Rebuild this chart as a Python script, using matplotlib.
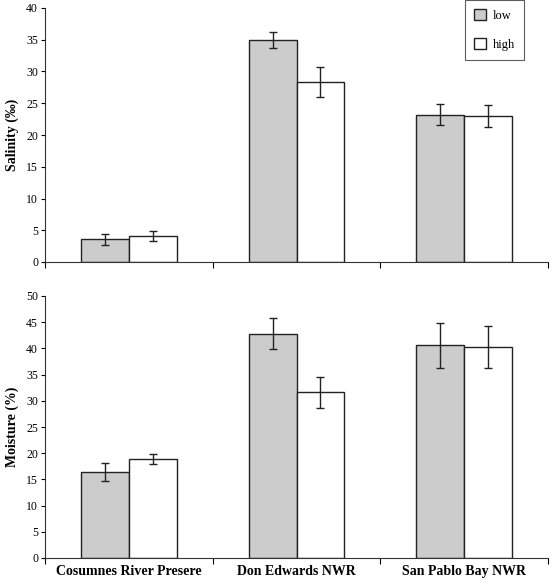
import matplotlib
matplotlib.use("Agg")
import matplotlib.pyplot as plt
import numpy as np

sites = ["Cosumnes River Presere", "Don Edwards NWR", "San Pablo Bay NWR"]
series = ["low", "high"]
salinity_low = [3.6, 34.9, 23.2]
salinity_high = [4.1, 28.3, 23.0]
salinity_low_err = [0.85, 1.25, 1.7]
salinity_high_err = [0.85, 2.35, 1.7]
moisture_low = [16.4, 42.8, 40.6]
moisture_high = [18.9, 31.6, 40.3]
moisture_low_err = [1.7, 3.0, 4.3]
moisture_high_err = [1.0, 3.0, 4.0]

plt.rcParams['font.family'] = ['Liberation Serif', 'DejaVu Serif']

W, H = 553, 580
fig = plt.figure(figsize=(W/100, H/100), dpi=100)

def ax_rect(left, right, top, bottom):
    return [left/W, 1-bottom/H, (right-left)/W, (bottom-top)/H]

ax1 = fig.add_axes(ax_rect(45, 548, 8, 262))
ax2 = fig.add_axes(ax_rect(45, 548, 296, 558))

x = np.arange(len(sites))
w = 0.2857
low_color = '#cccccc'
edge = '#222222'

def draw(ax, low, high, lerr, herr, ymax, ylabel, show_labels):
    ax.bar(x - w/2, low, w, color=low_color, edgecolor=edge, linewidth=1.0,
           yerr=lerr, error_kw=dict(ecolor=edge, elinewidth=1.0, capsize=2.8, capthick=1.0),
           label=series[0], zorder=2)
    ax.bar(x + w/2, high, w, color='white', edgecolor=edge, linewidth=1.0,
           yerr=herr, error_kw=dict(ecolor=edge, elinewidth=1.0, capsize=2.8, capthick=1.0),
           label=series[1], zorder=2)
    ax.set_xlim(-0.5, len(sites) - 0.5)
    ax.set_ylim(0, ymax)
    ax.set_yticks(np.arange(0, ymax + 1, 5))
    ax.tick_params(axis='y', labelsize=8.5, length=3, direction='out', width=0.8, pad=2)
    ax.set_xticks(np.arange(-0.5, len(sites), 1.0))
    ax.set_xticklabels([])
    ax.tick_params(axis='x', which='major', length=4, direction='out', width=0.8)
    if show_labels:
        ax.set_xticks(x, minor=True)
        ax.set_xticklabels(sites, minor=True, fontweight='bold', fontsize=10)
        ax.tick_params(axis='x', which='minor', length=0, pad=5)
    for s in ['top', 'right']:
        ax.spines[s].set_visible(False)
    for s in ['left', 'bottom']:
        ax.spines[s].set_linewidth(0.8)
        ax.spines[s].set_color('#333333')
    ax.set_ylabel(ylabel, fontweight='bold', fontsize=10, labelpad=5)

draw(ax1, salinity_low, salinity_high, salinity_low_err, salinity_high_err, 40,
     "Salinity (‰)", False)
draw(ax2, moisture_low, moisture_high, moisture_low_err, moisture_high_err, 50,
     "Moisture (%)", True)

handles, labels = ax1.get_legend_handles_labels()
leg = fig.legend(handles, labels, loc='upper left', bbox_to_anchor=(465/W, 1.0),
                 borderaxespad=0.0,
                 frameon=True, fancybox=False, fontsize=9, handlelength=1.0,
                 handleheight=1.0, labelspacing=1.3, borderpad=0.7, handletextpad=0.5,
                 edgecolor='#333333')
leg.get_frame().set_linewidth(0.8)

fig.savefig("out.png", dpi=100)
